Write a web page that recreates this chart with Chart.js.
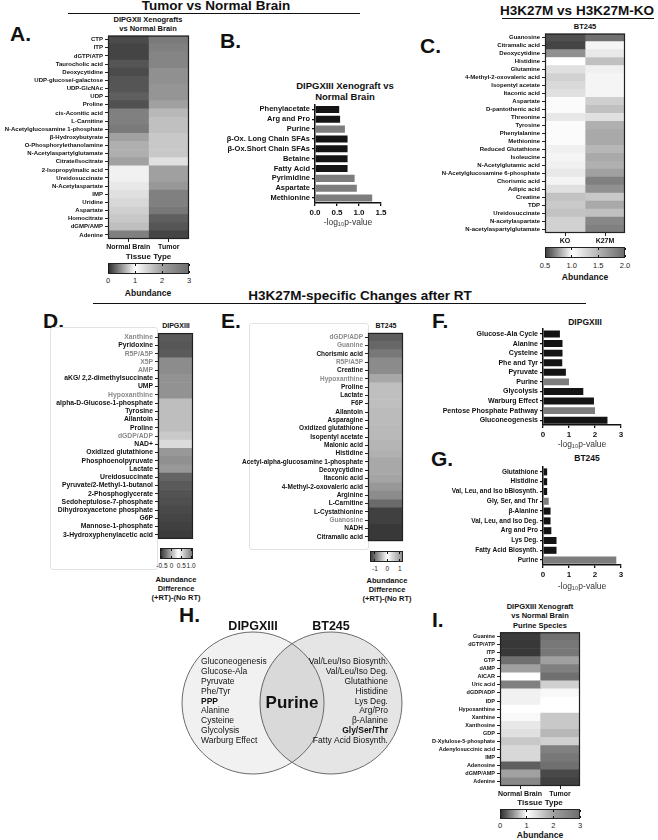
<!DOCTYPE html>
<html>
<head>
<meta charset="utf-8">
<script src="https://cdn.jsdelivr.net/npm/chart.js@4.4.1/dist/chart.umd.min.js"></script>
<style>
  body { margin: 0; background: #fff; width: 658px; height: 840px; position: relative; overflow: hidden;
         font-family: "Liberation Sans", Arial, sans-serif; color: #111; }
  .t { position: absolute; white-space: nowrap; line-height: 1; }
  canvas { position: absolute; }
  .box { position: absolute; border: 1px solid #e2e2e2; border-radius: 3px; box-sizing: border-box; }
  .cbar { position: absolute; border: 1px solid #222; box-sizing: border-box; }
  .rule { position: absolute; height: 0; border-top: 1.5px solid #111; }
</style>
</head>
<body>
<script>
// ---- panel A: tumor vs normal brain heatmap
const aRows = ['CTP', 'ITP', 'dGTP/ATP', 'Taurocholic acid', 'Deoxycytidine', 'UDP-glucose/-galactose', 'UDP-GlcNAc', 'UDP',
  'Proline', 'cis-Aconitic acid', 'L-Carnitine', 'N-Acetylglucosamine 1-phosphate', 'β-Hydroxybutyrate',
  'O-Phosphorylethanolamine', 'N-Acetylaspartylglutamate', 'Citrate/Isocitrate', '2-Isopropylmalic acid',
  'Ureidosuccinate', 'N-Acetylaspartate', 'IMP', 'Uridine', 'Aspartate', 'Homocitrate', 'dGMP/AMP', 'Adenine'];
const aCols = ['Normal Brain', 'Tumor'];
const aNormal = [0.12, 0.09, 0.09, 0.17, 0.12, 0.17, 0.17, 0.22, 0.15, 0.38, 0.38, 0.35, 0.54, 0.61, 0.61, 0.54,
  0.93, 0.93, 0.89, 0.85, 0.81, 0.77, 0.73, 0.69, 0.38];
const aTumor = [2.76, 2.64, 2.54, 2.54, 2.32, 2.32, 2.22, 2.22, 2.0, 1.75, 1.66, 1.66, 1.58, 1.58, 1.58, 1.33,
  2.0, 2.0, 2.16, 2.64, 2.64, 2.8, 0.22, 0.17, 0.09];
const abundanceTicks = [0, 1, 2, 3];

// ---- panel B: pathway p-values, xenograft vs normal brain
const bLabels = ['Phenylacetate', 'Arg and Pro', 'Purine', 'β-Ox. Long Chain SFAs', 'β-Ox.Short Chain SFAs',
  'Betaine', 'Fatty Acid', 'Pyrimidine', 'Aspartate', 'Methionine'];
const bVals = [0.55, 0.57, 0.68, 0.74, 0.74, 0.74, 0.74, 0.90, 0.95, 1.30];
const bGray = ['Purine', 'Pyrimidine', 'Aspartate', 'Methionine'];
const bTicks = [0, 0.5, 1.0, 1.5];

// ---- panel C: BT245 KO vs K27M heatmap
const cRows = ['Guanosine', 'Citramalic acid', 'Deoxycytidine', 'Histidine', 'Glutamine', '4-Methyl-2-oxovaleric acid',
  'Isopentyl acetate', 'Itaconic acid', 'Aspartate', 'D-pantothenic acid', 'Threonine', 'Tyrosine', 'Phenylalanine',
  'Methionine', 'Reduced Glutathione', 'Isoleucine', 'N-Acetylglutamic acid', 'N-Acetylglucosamine 6-phosphate',
  'Chorismic acid', 'Adipic acid', 'Creatine', 'TDP', 'Ureidosuccinate', 'N-acetylaspartate', 'N-acetylaspartylglutamate'];
const cCols = ['KO', 'K27M'];
const cKO = [0.54, 0.51, 0.71, 1.0, 0.92, 0.88, 0.90, 0.92, 0.99, 0.99, 0.94, 0.99, 0.99, 0.99, 0.96, 0.97, 0.96,
  0.94, 0.97, 0.92, 0.84, 0.86, 0.84, 0.88, 0.88];
const cK27M = [1.96, 1.07, 1.15, 1.42, 1.10, 1.07, 1.07, 1.07, 1.32, 1.42, 1.21, 1.53, 1.58, 1.58, 1.48, 1.58, 1.53,
  1.64, 1.85, 1.74, 1.37, 1.58, 1.42, 1.80, 1.85];
const cTicks = ['0.5', '1.0', '1.5', '2.0'];

// ---- panel D: DIPGXIII RT difference
const dRows = ['Xanthine', 'Pyridoxine', 'R5P/A5P', 'X5P', 'AMP', 'aKG/ 2,2-dimethylsuccinate', 'UMP', 'Hypoxanthine',
  'alpha-D-Glucose-1-phosphate', 'Tyrosine', 'Allantoin', 'Proline', 'dGDP/ADP', 'NAD+', 'Oxidized glutathione',
  'Phosphoenolpyruvate', 'Lactate', 'Ureidosuccinate', 'Pyruvate/2-Methyl-1-butanol', '2-Phosphoglycerate',
  'Sedoheptulose-7-phosphate', 'Dihydroxyacetone phosphate', 'G6P', 'Mannose-1-phosphate', '3-Hydroxyphenylacetic acid'];
const dVals = [-0.44, -0.45, -0.44, -0.20, -0.20, -0.17, -0.17, -0.17, 0.04, 0.04, 0.04, 0.04, 0.09, 0.18, -0.14,
  -0.18, -0.14, -0.39, -0.44, -0.47, -0.49, -0.52, -0.54, -0.56, -0.58];
const dPurine = ['Xanthine', 'R5P/A5P', 'X5P', 'AMP', 'Hypoxanthine', 'dGDP/ADP'];
const dTicks = ['-0.5', '0', '0.5', '1.0'];

// ---- panel E: BT245 RT difference
const eRows = ['dGDP/ADP', 'Guanine', 'Chorismic acid', 'R5P/A5P', 'Creatine', 'Hypoxanthine', 'Proline', 'Lactate',
  'F6P', 'Allantoin', 'Asparagine', 'Oxidized glutathione', 'Isopentyl acetate', 'Malonic acid', 'Histidine',
  'Acetyl-alpha-glucosamine 1-phosphate', 'Deoxycytidine', 'Itaconic acid', '4-Methyl-2-oxovaleric acid', 'Arginine',
  'L-Carnitine', 'L-Cystathionine', 'Guanosine', 'NADH', 'Citramalic acid'];
const eVals = [-1.20, -1.12, -1.00, -0.86, -0.85, -0.64, -0.47, -0.47, -0.47, -0.50, -0.50, -0.52, -0.52, -0.55,
  -0.58, -0.64, -0.64, -0.67, -0.76, -0.85, -1.09, -1.41, -1.41, -1.47, -1.47];
const ePurine = ['dGDP/ADP', 'Guanine', 'R5P/A5P', 'Hypoxanthine', 'Guanosine'];
const eTicks = ['-1', '0', '1'];

// ---- panels F and G: pathway p-values after RT
const fLabels = ['Glucose-Ala Cycle', 'Alanine', 'Cysteine', 'Phe and Tyr', 'Pyruvate', 'Purine', 'Glycolysis',
  'Warburg Effect', 'Pentose Phosphate Pathway', 'Gluconeogenesis'];
const fVals = [0.65, 0.75, 0.75, 0.74, 0.88, 1.0, 1.55, 1.96, 2.0, 2.48];
const fGray = ['Purine', 'Pentose Phosphate Pathway'];
const gLabels = ['Glutathione', 'Histidine', 'Val, Leu, and Iso bBiosynth.', 'Gly, Ser, and Thr', 'β-Alanine',
  'Val, Leu, and Iso Deg.', 'Arg and Pro', 'Lys Deg.', 'Fatty Acid Biosynth.', 'Purine'];
const gVals = [0.16, 0.16, 0.16, 0.22, 0.29, 0.29, 0.32, 0.52, 0.52, 2.82];
const gGray = ['Gly, Ser, and Thr', 'Purine'];
const fgTicks = [0, 1, 2, 3];

// ---- panel H: venn of changed pathways
const vennSets = ['DIPGXIII', 'BT245'];
const vennX = [-1, 1];
const vennLeft = ['Gluconeogenesis', 'Glucose-Ala', 'Pyruvate', 'Phe/Tyr', 'PPP', 'Alanine', 'Cysteine',
  'Glycolysis', 'Warburg Effect'];
const vennRight = ['Val/Leu/Iso Biosynth.', 'Val/Leu/Iso Deg.', 'Glutathione', 'Histidine', 'Lys Deg.', 'Arg/Pro',
  'β-Alanine', 'Gly/Ser/Thr', 'Fatty Acid Biosynth.'];
const vennShared = 'Purine';
const vennBold = ['PPP', 'Gly/Ser/Thr'];

// ---- panel I: purine species heatmap
const iRows = ['Guanine', 'dGTP/ATP', 'ITP', 'GTP', 'dAMP', 'AICAR', 'Uric acid', 'dGDP/ADP', 'IDP', 'Hypoxanthine',
  'Xanthine', 'Xanthosine', 'GDP', 'D-Xylulose-5-phosphate', 'Adenylosuccinic acid', 'IMP', 'Adenosine', 'dGMP/AMP',
  'Adenine'];
const iNormal = [0.05, 0.03, 0.03, 0.30, 0.54, 1.0, 0.38, 0.93, 0.93, 1.0, 0.97, 0.89, 0.85, 0.73, 0.81, 0.81,
  0.22, 0.54, 0.42];
const iTumor = [2.96, 2.8, 2.8, 2.0, 2.64, 2.96, 1.49, 1.07, 1.0, 1.0, 1.58, 1.58, 1.75, 1.49, 2.64, 2.8, 2.96,
  0.11, 0.07];

// gray colour maps: [value, gray level]
const abundMap = [[0, 50], [1, 255], [2, 160], [3, 110]];
const koMap = [[0.5, 64], [1, 255], [2, 106]];
const dMap = [[-0.6, 56], [0.35, 255], [1.1, 120]];
const eMap = [[-1.5, 52], [0, 255], [1.5, 120]];

Chart.defaults.font.family = '"Liberation Sans", Arial, sans-serif';
Chart.defaults.font.weight = 'bold';
Chart.defaults.color = '#111';
Chart.defaults.animation = false;
Chart.defaults.events = [];
Chart.defaults.plugins.legend.display = false;
Chart.defaults.plugins.tooltip.enabled = false;

function grayFrom(stops) {
  return v => {
    let g = stops[stops.length - 1][1];
    if (v <= stops[0][0]) g = stops[0][1];
    else for (let i = 1; i < stops.length; i++) {
      if (v <= stops[i][0]) {
        const [v0, g0] = stops[i - 1], [v1, g1] = stops[i];
        g = g0 + (g1 - g0) * (v - v0) / (v1 - v0);
        break;
      }
    }
    g = Math.round(g);
    return `rgb(${g},${g},${g})`;
  };
}

function txt(x, y, s, o = {}) {
  const d = document.createElement('div');
  d.className = 't';
  d.textContent = s;
  d.style.fontSize = (o.size || 8) + 'px';
  d.style.fontWeight = o.weight || 'bold';
  if (o.color) d.style.color = o.color;
  const tx = o.anchor === 'l' ? '0' : o.anchor === 'r' ? '-100%' : '-50%';
  d.style.left = x + 'px';
  d.style.top = y + 'px';
  d.style.transform = `translate(${tx},-50%)`;
  document.body.appendChild(d);
}

function rule(x1, x2, y) {
  const d = document.createElement('div');
  d.className = 'rule';
  Object.assign(d.style, { left: x1 + 'px', top: y + 'px', width: (x2 - x1) + 'px' });
  document.body.appendChild(d);
}

function box(x, y, w, h) {
  const d = document.createElement('div');
  d.className = 'box';
  Object.assign(d.style, { left: x + 'px', top: y + 'px', width: w + 'px', height: h + 'px' });
  document.body.appendChild(d);
}

function place(x, y, w, h) {
  const c = document.createElement('canvas');
  c.width = w; c.height = h;
  c.style.left = x + 'px'; c.style.top = y + 'px';
  document.body.appendChild(c);
  return c;
}

// dark frame round the heatmap area
Chart.register({
  id: 'frame',
  afterDatasetsDraw(chart, args, opts) {
    if (!opts.on) return;
    const a = chart.chartArea, ctx = chart.ctx;
    ctx.save();
    ctx.strokeStyle = '#222';
    ctx.lineWidth = 1.2;
    ctx.strokeRect(a.left + 0.5, a.top + 0.5, a.right - a.left - 1, a.bottom - a.top - 1);
    ctx.restore();
  }
});

function heatmap(o) {
  const padT = 5, padR = 10, padL = 14;
  const cv = place(o.x - o.labelW - padL, o.y - padT, padL + o.labelW + o.w + padR, padT + o.h + o.xH);
  const color = grayFrom(o.cmap);
  new Chart(cv, {
    type: 'bar',
    data: {
      labels: o.rows,
      datasets: o.cols.map((c, i) => ({
        label: c,
        data: o.rows.map(() => 1),
        backgroundColor: o.vals[i].map(color),
        borderWidth: 0, barPercentage: 1, categoryPercentage: 1
      }))
    },
    options: {
      indexAxis: 'y', responsive: false, devicePixelRatio: 1,
      layout: { padding: { top: padT, right: padR, left: padL, bottom: 0 } },
      plugins: { frame: { on: true } },
      scales: {
        x: {
          type: 'linear', stacked: true, min: 0, max: o.cols.length, display: o.xH > 0,
          afterBuildTicks: s => { s.ticks = o.cols.map((c, i) => ({ value: i + 0.5 })); },
          afterFit: s => { s.height = o.xH; },
          ticks: { autoSkip: false, maxRotation: 0, padding: 1, font: { size: 7 }, callback: v => o.cols[Math.floor(v)] },
          grid: { drawOnChartArea: false, drawTicks: true, tickLength: 3, color: '#222' },
          border: { display: false },
          title: { display: !!o.xTitle, text: o.xTitle, padding: 0, font: { size: 8 } }
        },
        y: {
          stacked: true, offset: true,
          afterFit: s => { s.width = o.labelW; },
          ticks: { autoSkip: false, padding: 2, font: { size: o.font },
                   color: ctx => (o.gray && o.gray.includes(o.rows[ctx.index])) ? '#8a8a8a' : '#111' },
          grid: { offset: false, drawOnChartArea: false, drawTicks: true, tickLength: 3, color: '#222' },
          border: { display: false }
        }
      }
    }
  });
}

function hbar(o) {
  const padT = 6, padR = 10, padL = 12;
  const cv = place(o.x - o.labelW - padL, o.y - padT, padL + o.labelW + o.w + padR, padT + o.h + o.xH);
  new Chart(cv, {
    type: 'bar',
    data: {
      labels: o.labels,
      datasets: [{
        data: o.vals,
        backgroundColor: o.labels.map(l => o.gray.includes(l) ? '#7d7d7d' : '#141414'),
        borderWidth: 0, barPercentage: 0.72, categoryPercentage: 1
      }]
    },
    options: {
      indexAxis: 'y', responsive: false, devicePixelRatio: 1,
      layout: { padding: { top: padT, right: padR, left: padL, bottom: 0 } },
      scales: {
        x: {
          min: 0, max: o.ticks[o.ticks.length - 1],
          afterBuildTicks: s => { s.ticks = o.ticks.map(v => ({ value: v })); },
          afterFit: s => { s.height = o.xH; },
          ticks: { padding: 2, font: { size: 8 }, callback: v => v.toFixed(o.dec) },
          grid: { drawOnChartArea: false, tickLength: 3, color: '#111', lineWidth: 1.3 },
          border: { color: '#111', width: 1.5 },
          title: { display: true, text: '-log₁₀p-value', padding: 0, color: '#333', font: { size: 8.5, weight: 'normal' } }
        },
        y: {
          afterFit: s => { s.width = o.labelW; },
          ticks: { autoSkip: false, padding: 2, font: { size: o.font } },
          grid: { offset: false, drawOnChartArea: false, tickLength: 3, color: '#111', lineWidth: 1.3 },
          border: { color: '#111', width: 1.5 }
        }
      }
    }
  });
}

function colorbar(o) {
  const color = grayFrom(o.cmap);
  const stops = [];
  for (let i = 0; i <= 40; i++) {
    const v = o.min + (o.max - o.min) * i / 40;
    stops.push(`${color(v)} ${(i * 2.5).toFixed(1)}%`);
  }
  const d = document.createElement('div');
  d.className = 'cbar';
  Object.assign(d.style, { left: o.x + 'px', top: o.y + 'px', width: o.w + 'px', height: o.h + 'px',
    background: `linear-gradient(to right, ${stops.join(',')})` });
  document.body.appendChild(d);
  o.ticks.forEach(t => {
    const px = o.x + (parseFloat(t) - o.min) / (o.max - o.min) * o.w;
    [o.y + 1, o.y + o.h - 3].forEach(yy => {
      const m = document.createElement('div');
      Object.assign(m.style, { position: 'absolute', left: (px - 0.5) + 'px', top: yy + 'px', width: '1px', height: '2px', background: '#111' });
      document.body.appendChild(m);
    });
    txt(px, o.ty, String(t), { size: o.tSize || 7.5, weight: 'normal', color: '#222' });
  });
}

// ---------- headers and panel letters
txt(216, 6, 'Tumor vs Normal Brain', { size: 13.5 });
rule(68, 360, 13);
txt(577, 11, 'H3K27M vs H3K27M-KO', { size: 13.5 });
rule(502, 654, 18);
txt(360, 296, 'H3K27M-specific Changes after RT', { size: 13.5 });
rule(93, 586, 303);

[['A.', 10, 33], ['B.', 220, 40], ['C.', 420, 45], ['D.', 43, 320], ['E.', 221, 320], ['F.', 432, 320],
 ['G.', 431, 458], ['H.', 179, 614], ['I.', 432, 619]].forEach(([s, x, y]) => txt(x, y, s, { size: 21, anchor: 'l' }));

// ---------- panel A
txt(148, 20, 'DIPGXII Xenografts', { size: 7.5 });
txt(148, 29, 'vs  Normal  Brain', { size: 7.5 });
heatmap({ rows: aRows, cols: aCols, vals: [aNormal, aTumor], cmap: abundMap,
  x: 108, y: 35, w: 81, h: 204, labelW: 106, xH: 23, font: 6, xTitle: 'Tissue Type' });
colorbar({ x: 108, y: 263, w: 81, h: 11, min: 0, max: 3, cmap: abundMap, ticks: abundanceTicks, ty: 281 });
txt(148, 293, 'Abundance', { size: 8.5 });

// ---------- panel B
txt(345, 86, 'DIPGXIII Xenograft vs', { size: 9.5 });
txt(345, 97, 'Normal Brain', { size: 9.5 });
hbar({ labels: bLabels, vals: bVals, gray: bGray, ticks: bTicks, dec: 1,
  x: 315, y: 104, w: 66, h: 99, labelW: 95, xH: 25, font: 7.5 });

// ---------- panel C
txt(585, 27, 'BT245', { size: 7.5 });
heatmap({ rows: cRows, cols: cCols, vals: [cKO, cK27M], cmap: koMap,
  x: 545, y: 33, w: 80, h: 200, labelW: 110, xH: 14, font: 6 });
colorbar({ x: 545, y: 247, w: 80, h: 11, min: 0.5, max: 2.0, cmap: koMap, ticks: cTicks, ty: 266 });
txt(585, 277, 'Abundance', { size: 8.5 });

// ---------- panel D
box(50, 327, 108, 243);
txt(176, 325, 'DIPGXIII', { size: 7 });
heatmap({ rows: dRows, cols: ['DIPGXIII'], vals: [dVals], cmap: dMap, gray: dPurine,
  x: 158, y: 332, w: 35, h: 213, labelW: 108, xH: 0, font: 6.8 });
colorbar({ x: 160, y: 548, w: 33, h: 11, min: -0.6, max: 1.1, cmap: dMap, ticks: dTicks, ty: 566, tSize: 6.5 });
txt(176, 580, 'Abundance', { size: 7.5 });
txt(176, 589, 'Difference', { size: 7.5 });
txt(176, 598, '(+RT)-(No RT)', { size: 7.5 });

// ---------- panel E
box(249, 323, 120, 227);
txt(386, 325, 'BT245', { size: 7 });
heatmap({ rows: eRows, cols: ['BT245'], vals: [eVals], cmap: eMap, gray: ePurine,
  x: 368, y: 332, w: 35, h: 215, labelW: 140, xH: 0, font: 6.5 });
colorbar({ x: 370, y: 551, w: 33, h: 11, min: -1.4, max: 1.25, cmap: eMap, ticks: eTicks, ty: 569, tSize: 6.5 });
txt(387, 581, 'Abundance', { size: 7.5 });
txt(387, 590, 'Difference', { size: 7.5 });
txt(387, 599, '(+RT)-(No RT)', { size: 7.5 });

// ---------- panels F and G
txt(585, 322, 'DIPGXIII', { size: 8.5 });
hbar({ labels: fLabels, vals: fVals, gray: fGray, ticks: fgTicks, dec: 0,
  x: 543, y: 329, w: 78, h: 96, labelW: 105, xH: 25, font: 7 });
txt(587, 458, 'BT245', { size: 8.5 });
hbar({ labels: gLabels, vals: gVals, gray: gGray, ticks: fgTicks, dec: 0,
  x: 543, y: 467, w: 78, h: 98, labelW: 105, xH: 27, font: 6.5 });

// ---------- panel H (venn drawn as two bubbles)
const vennText = {
  id: 'vennText',
  afterDatasetsDraw(chart) {
    const ctx = chart.ctx, xs = chart.scales.x, ys = chart.scales.y;
    const cxL = xs.getPixelForValue(vennX[0]), cxR = xs.getPixelForValue(vennX[1]), cy = ys.getPixelForValue(0);
    const fam = '"Liberation Sans", Arial, sans-serif';
    ctx.save();
    ctx.fillStyle = '#111';
    ctx.textBaseline = 'middle';
    ctx.textAlign = 'center';
    ctx.font = `bold 12.5px ${fam}`;
    ctx.fillText(vennSets[0], cxL, cy - 76);
    ctx.fillText(vennSets[1], cxR, cy - 76);
    ctx.font = `bold 17px ${fam}`;
    ctx.fillText(vennShared, (cxL + cxR) / 2, cy);
    const lineH = 9.8, y0 = cy - 41;
    ctx.textAlign = 'left';
    vennLeft.forEach((s, i) => {
      ctx.font = `${vennBold.includes(s) ? 'bold ' : ''}8.5px ${fam}`;
      ctx.fillText(s, cxL - 52, y0 + i * lineH);
    });
    ctx.textAlign = 'right';
    vennRight.forEach((s, i) => {
      ctx.font = `${vennBold.includes(s) ? 'bold ' : ''}8.5px ${fam}`;
      ctx.fillText(s, cxR + 57, y0 + i * lineH);
    });
    ctx.restore();
  }
};
new Chart(place(170, 615, 244, 176), {
  type: 'bubble',
  data: {
    datasets: vennSets.map((s, i) => ({
      label: s,
      data: [{ x: vennX[i], y: 0 }],
      radius: 71,
      backgroundColor: i === 0 ? 'rgba(0,0,0,0.055)' : 'rgba(0,0,0,0.1)',
      borderColor: '#6a6a6a', borderWidth: 1, clip: false
    }))
  },
  options: {
    responsive: false, devicePixelRatio: 1,
    layout: { padding: 0, autoPadding: false },
    scales: { x: { display: false, min: -3.13, max: 3.13 }, y: { display: false, min: -1, max: 1 } }
  },
  plugins: [vennText]
});

// ---------- panel I
txt(540, 607, 'DIPGXIII Xenograft', { size: 7.5 });
txt(540, 616, 'vs Normal Brain', { size: 7.5 });
txt(540, 626, 'Purine  Species', { size: 7.5 });
heatmap({ rows: iRows, cols: aCols, vals: [iNormal, iTumor], cmap: abundMap,
  x: 500, y: 632, w: 80, h: 154, labelW: 72, xH: 22, font: 5.5, xTitle: 'Tissue Type' });
colorbar({ x: 500, y: 809, w: 80, h: 10, min: 0, max: 3, cmap: abundMap, ticks: abundanceTicks, ty: 826 });
txt(540, 835, 'Abundance', { size: 8.5 });
</script>
</body>
</html>
